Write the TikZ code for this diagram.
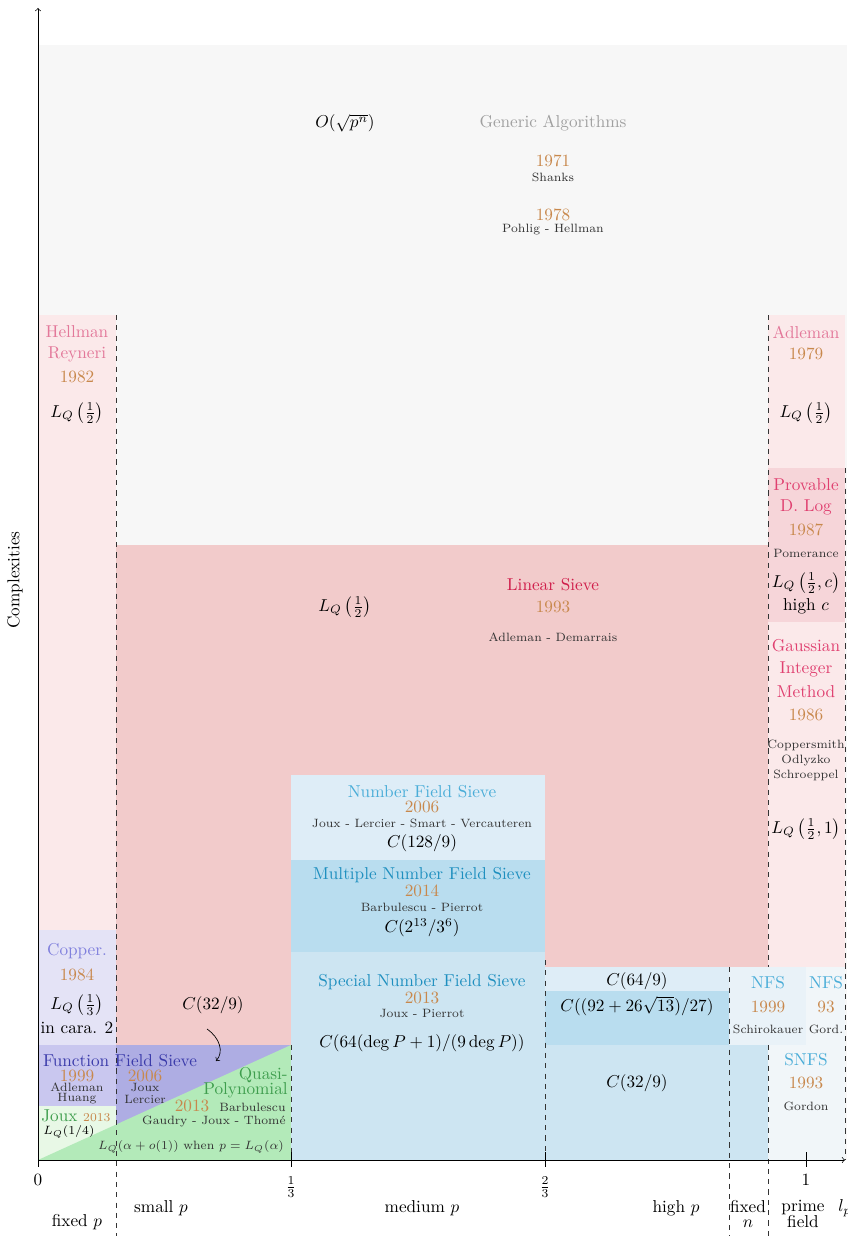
\documentclass[tikz,border=0pt]{standalone}
\usepackage{amsmath}
\definecolor{bggray}{HTML}{F7F7F7}
\definecolor{pinkL}{HTML}{FBE9EA}
\definecolor{pinkP}{HTML}{F6D5D9}
\definecolor{pinkM}{HTML}{F2CBCB}
\definecolor{copperbg}{HTML}{E4E3F6}
\definecolor{ffsL}{HTML}{C9C7EF}
\definecolor{ffsD}{HTML}{AEADE3}
\definecolor{jouxL}{HTML}{E8F8E6}
\definecolor{quasibg}{HTML}{B3EAB9}
\definecolor{nfsA}{HTML}{DEEDF7}
\definecolor{nfsB}{HTML}{B9DDEF}
\definecolor{nfsC}{HTML}{CDE5F2}
\definecolor{nfsD}{HTML}{E9F2F8}
\definecolor{nfsE}{HTML}{F1F6F9}
\definecolor{genc}{HTML}{A0A0A0}
\definecolor{yearc}{HTML}{C8884C}
\definecolor{hellc}{HTML}{E3789A}
\definecolor{provc}{HTML}{E04070}
\definecolor{linc}{HTML}{D01E4B}
\definecolor{nfsc}{HTML}{4AADD8}
\definecolor{snfsc}{HTML}{1E8FBF}
\definecolor{copc}{HTML}{8080DD}
\definecolor{ffsc}{HTML}{3A3AAA}
\definecolor{quasic}{HTML}{3F9E4E}
\definecolor{authc}{HTML}{333333}
\begin{document}
\begin{tikzpicture}[x=0.5814pt,y=-0.5814pt,
  lbl/.style={inner sep=0pt},
  yr/.style={inner sep=0pt,text=yearc},
  au/.style={inner sep=0pt,font=\scriptsize,text=authc},
  sep/.style={dashed,black!80},
  tickmark/.style={black}]
\useasboundingbox (0,0) rectangle (847,1236);
% backgrounds
\fill[bggray] (38,45) rectangle (847,1160);
\fill[pinkL] (38,315) rectangle (116,930);
\fill[pinkL] (768,315) rectangle (845,468);
\fill[pinkP] (768,468) rectangle (845,622);
\fill[pinkL] (768,622) rectangle (845,967);
\fill[pinkM] (116,545) rectangle (768,1160);
\fill[copperbg] (38,930) rectangle (116,1045);
\fill[ffsL] (38,1045) rectangle (116,1106);
\fill[ffsD] (116,1045) rectangle (291,1160);
\fill[jouxL] (38,1106) rectangle (116,1160);
\fill[quasibg] (38,1160) -- (291,1045) -- (291,1160) -- cycle;
\fill[nfsA] (291,775) rectangle (545,860);
\fill[nfsB] (291,860) rectangle (545,952);
\fill[nfsC] (291,952) rectangle (545,1160);
\fill[nfsA] (545,967) rectangle (729,991);
\fill[nfsB] (545,991) rectangle (729,1045);
\fill[nfsC] (545,1045) rectangle (768,1160);
\fill[nfsD] (729,967) rectangle (806,1045);
\fill[nfsE] (806,967) rectangle (845,1045);
\fill[nfsE] (768,1045) rectangle (845,1160);
% separators
\draw[sep] (116,315) -- (116,1236);
\draw[sep] (291,1045) -- (291,1160);
\draw[sep] (545,960) -- (545,1160);
\draw[sep] (729,967) -- (729,1236);
\draw[sep] (768,315) -- (768,967);
\draw[sep] (768,1045) -- (768,1236);
\draw[sep] (845,468) -- (845,1160);
% axes
\coordinate (O) at (38,1160);
\coordinate (ytop) at (38,8);
\coordinate (xend) at (845,1160);
\draw[->] (O) -- (ytop);
\draw[->] (O) -- (xend);
\foreach \xx in {38,291,545,806} \draw[tickmark] (\xx,1152) -- (\xx,1167);
\node[lbl] (t0) at (38,1180) {$0$};
\node[lbl] (t1) at (291,1187) {$\frac{1}{3}$};
\node[lbl] (t2) at (545,1187) {$\frac{2}{3}$};
\node[lbl] (t3) at (806,1180) {$1$};
\node[lbl,anchor=west] (tlp) at (838,1208) {$l_p$};
\node[lbl] (fixp) at (77,1222) {fixed $p$};
\node[lbl] (smallp) at (161,1208) {small $p$};
\node[lbl] (medp) at (422,1208) {medium $p$};
\node[lbl] (highp) at (676,1208) {high $p$};
\node[lbl,align=center] (fixn) at (748,1214) {fixed\\[-3pt]$n$};
\node[lbl,align=center] (primef) at (803,1214) {prime\\[-3pt]field};
\node[lbl,rotate=90] (cplx) at (15,580) {Complexities};
% generic
\node[lbl] (osq) at (345,123) {$O(\sqrt{p^n})$};
\node[lbl,text=genc] (gen) at (553,123) {Generic Algorithms};
\node[yr] (y1971) at (553,161) {1971};
\node[au] (shanks) at (553,177) {Shanks};
\node[yr] (y1978) at (553,215) {1978};
\node[au] (pohlig) at (553,230) {Pohlig - Hellman};
% Hellman
\node[lbl,text=hellc] (hell) at (77,332) {Hellman};
\node[lbl,text=hellc] (reyn) at (77,354) {Reyneri};
\node[yr] (y1982) at (77,377) {1982};
\node[lbl] (lqh) at (77,413) {$L_Q\left(\frac{1}{2}\right)$};
% Adleman
\node[lbl,text=hellc] (adl) at (806,332) {Adleman};
\node[yr] (y1979) at (806,354) {1979};
\node[lbl] (lqa) at (806,413) {$L_Q\left(\frac{1}{2}\right)$};
% Provable
\node[lbl,text=provc] (prov) at (806,485) {Provable};
\node[lbl,text=provc] (dlog) at (806,507) {D. Log};
\node[yr] (y1987) at (806,530) {1987};
\node[au] (pom) at (806,553) {Pomerance};
\node[lbl] (lqp) at (806,583) {$L_Q\left(\frac{1}{2},c\right)$};
\node[lbl] (highc) at (806,606) {high $c$};
% Gaussian
\node[lbl,text=provc] (gau) at (806,646) {Gaussian};
\node[lbl,text=provc] (integ) at (806,669) {Integer};
\node[lbl,text=provc] (meth) at (806,692) {Method};
\node[yr] (y1986) at (806,715) {1986};
\node[au] (copp) at (806,745) {Coppersmith};
\node[au] (odl) at (806,760) {Odlyzko};
\node[au] (schr) at (806,775) {Schroeppel};
\node[lbl] (lqg) at (806,829) {$L_Q\left(\frac{1}{2},1\right)$};
% Linear sieve
\node[lbl] (lql) at (345,607) {$L_Q\left(\frac{1}{2}\right)$};
\node[lbl,text=linc] (lin) at (553,585) {Linear Sieve};
\node[yr] (y1993) at (553,607) {1993};
\node[au] (adem) at (553,637) {Adleman - Demarrais};
% NFS 2006
\node[lbl,text=nfsc] (nfs) at (422,792) {Number Field Sieve};
\node[yr] (y2006) at (422,807) {2006};
\node[au] (jlsv) at (422,823) {Joux - Lercier - Smart - Vercauteren};
\node[lbl] (c128) at (422,843) {$C(128/9)$};
% MNFS
\node[lbl,text=snfsc] (mnfs) at (422,875) {Multiple Number Field Sieve};
\node[yr] (y2014) at (422,891) {2014};
\node[au] (bp) at (422,907) {Barbulescu - Pierrot};
\node[lbl] (c213) at (422,928) {$C(2^{13}/3^6)$};
% SNFS
\node[lbl,text=snfsc] (snfs) at (422,982) {Special Number Field Sieve};
\node[yr] (y2013) at (422,998) {2013};
\node[au] (jp) at (422,1013) {Joux - Pierrot};
\node[lbl] (cdeg) at (422,1043) {$C(64(\deg P+1)/(9\deg P))$};
% high p
\node[lbl] (c64) at (637,981) {$C(64/9)$};
\node[lbl] (c92) at (637,1006) {$C((92+26\sqrt{13})/27)$};
\node[lbl] (c32r) at (637,1083) {$C(32/9)$};
\node[lbl,text=nfsc] (nfs99) at (768,983) {NFS};
\node[yr] (y1999r) at (768,1007) {1999};
\node[au] (schi) at (768,1029) {Schirokauer};
\node[lbl,text=nfsc] (nfs93) at (826,983) {NFS};
\node[yr] (y93) at (826,1007) {93};
\node[au] (gord) at (826,1029) {Gord.};
\node[lbl,text=nfsc] (snfs93) at (806,1060) {SNFS};
\node[yr] (y1993s) at (806,1083) {1993};
\node[au] (gordon) at (806,1106) {Gordon};
% Copper
\node[lbl,text=copc] (cop) at (77,951) {Copper.};
\node[yr] (y1984) at (77,975) {1984};
\node[lbl] (lqc) at (77,1005) {$L_Q\left(\frac{1}{3}\right)$};
\node[lbl] (cara) at (77,1028) {in cara. 2};
\node[lbl] (c32l) at (213,1005) {$C(32/9)$};
\coordinate (arrS) at (207,1029);
\coordinate (arrE) at (216,1061);
\draw[->] (arrS) .. controls (220,1038) and (224,1052) .. (arrE);
% Function field sieve
\node[lbl,text=ffsc] (ffs) at (120,1061) {Function Field Sieve};
\node[yr] (y1999l) at (77,1076) {1999};
\node[au] (adl2) at (77,1087) {Adleman};
\node[au] (huang) at (77,1099) {Huang};
\node[yr] (y2006l) at (145,1076) {2006};
\node[au] (joux2) at (145,1087) {Joux};
\node[au] (lerc) at (145,1099) {Lercier};
% Joux / quasi
\node[lbl,text=quasic,anchor=west] (joux) at (41,1116) {Joux \textcolor{yearc}{\scriptsize 2013}};
\node[lbl,anchor=west] (lq14) at (43,1132) {\scriptsize $L_Q(1/4)$};
\node[lbl,text=quasic,anchor=east] (quasi) at (288,1075) {Quasi-};
\node[lbl,text=quasic,anchor=east] (poly) at (288,1090) {Polynomial};
\node[yr] (y2013q) at (192,1106) {2013};
\node[au,anchor=east] (barb) at (286,1107) {Barbulescu};
\node[au,anchor=east] (gjt) at (286,1121) {Gaudry - Joux - Thom\'e};
\node[au] (lqa2) at (191,1147) {$L_Q(\alpha+o(1))$ when $p=L_Q(\alpha)$};
\end{tikzpicture}
\end{document}
